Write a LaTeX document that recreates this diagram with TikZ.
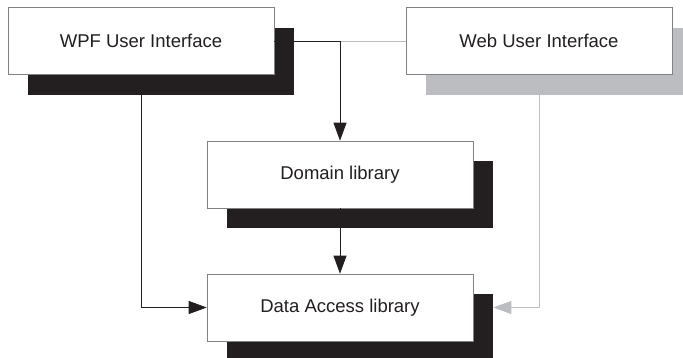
\documentclass[tikz,border=0pt]{standalone}
\usepackage{fontspec}
\setmainfont{Liberation Sans}
\usetikzlibrary{arrows.meta,shadows}
\definecolor{ink}{HTML}{231F20}
\definecolor{lgray}{HTML}{BCBDC0}
\definecolor{edge}{HTML}{808285}
\tikzset{
  box/.style={draw=edge, line width=0.6bp, fill=white, minimum width=266bp, minimum height=67bp,
    inner sep=0pt, text=ink, font=\fontsize{18.5bp}{22bp}\selectfont,
    general shadow={shadow xshift=20bp, shadow yshift=-20bp, fill=#1}},
  box/.default=ink,
  conn/.style={draw=ink, line width=0.8bp, -{Triangle[length=18bp,width=13bp]}},
  gconn/.style={draw=lgray, line width=0.8bp},
}
\begin{document}
\begin{tikzpicture}[x=1bp,y=-1bp]
\useasboundingbox (0,0) rectangle (683,357);
\node[box] (wpf) at (141,41) {WPF User Interface};
\node[box=lgray] (web) at (539,41) {Web User Interface};
\node[box] (dom) at (340,174.5) {Domain library};
\node[box] (data) at (340,307.5) {Data Access library};
\draw[gconn] (web.west) -- (dom.north |- web.west);
\draw[conn] (wpf.east) -| (dom.north);
\draw[conn] (dom.south) -- (data.north);
\draw[conn] (wpf.south) |- (data.west);
\draw[gconn, -{Triangle[length=18bp,width=13bp]}, shorten >=20bp] (web.south) |- (data.east);
\end{tikzpicture}
\end{document}
